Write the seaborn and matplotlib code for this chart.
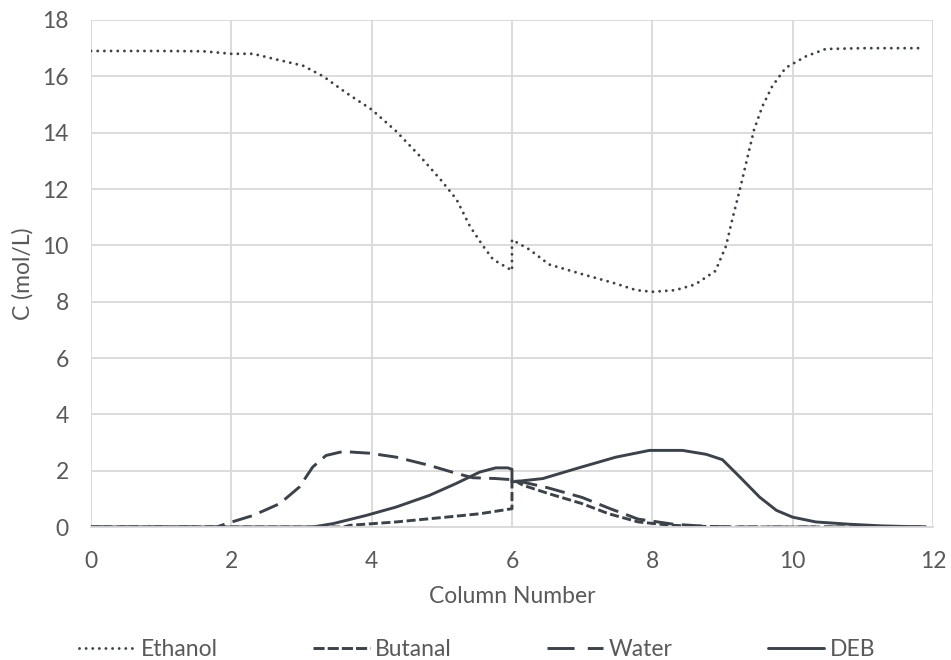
import matplotlib
matplotlib.use("Agg")
import matplotlib.pyplot as plt
import seaborn as sns

# ---- data ----
ethanol_x = [0, 1.0, 1.6, 2.0, 2.31, 2.64, 3.02, 3.31, 3.64, 4.0, 4.35, 4.69, 4.98, 5.21, 5.4,
             5.59, 5.73, 5.97, 6.0, 6.0, 6.25, 6.53, 7.01, 7.44, 7.77, 8.0, 8.33, 8.61, 8.9,
             9.05, 9.14, 9.26, 9.36, 9.45, 9.57, 9.71, 9.9, 10.19, 10.47, 11.0, 11.85]
ethanol_y = [16.9, 16.9, 16.89, 16.8, 16.8, 16.6, 16.38, 16.0, 15.41, 14.82, 14.05, 13.16, 12.34,
             11.63, 10.68, 9.97, 9.5, 9.15, 9.1, 10.2, 9.85, 9.32, 8.97, 8.67, 8.41, 8.35, 8.41,
             8.61, 9.09, 9.97, 10.92, 12.1, 13.16, 14.1, 14.94, 15.65, 16.3, 16.71, 16.97, 17.0, 17.0]

butanal_x = [0, 3.6, 3.69, 4.35, 5.06, 5.54, 6.0, 6.0, 6.16, 6.53, 7.0, 7.38, 7.8, 8.27, 9.0, 11.9]
butanal_y = [0, 0, 0.06, 0.18, 0.35, 0.47, 0.65, 1.7, 1.48, 1.18, 0.83, 0.47, 0.18, 0.06, 0.0, 0.0]

water_x = [0, 1.79, 1.93, 2.31, 2.69, 2.97, 3.16, 3.35, 3.59, 3.97, 4.35, 4.82, 5.2, 5.44, 5.77,
           6.0, 6.5, 7.0, 7.4, 7.8, 8.3, 8.8, 9.3, 11.9]
water_y = [0, 0, 0.12, 0.41, 0.83, 1.42, 2.13, 2.54, 2.68, 2.62, 2.48, 2.19, 1.91, 1.75, 1.72,
           1.68, 1.4, 1.05, 0.65, 0.28, 0.1, 0.02, 0, 0]

deb_x = [0, 3.16, 3.45, 3.92, 4.35, 4.82, 5.2, 5.54, 5.77, 5.94, 6.0, 6.0, 6.44, 6.91, 7.48, 7.96,
         8.43, 8.77, 9.0, 9.25, 9.53, 9.77, 10.0, 10.33, 10.8, 11.27, 11.9]
deb_y = [0, 0, 0.12, 0.41, 0.71, 1.12, 1.54, 1.95, 2.1, 2.1, 2.05, 1.6, 1.72, 2.07, 2.48, 2.72,
         2.72, 2.58, 2.39, 1.77, 1.06, 0.59, 0.35, 0.18, 0.1, 0.04, 0.0]

series_names = ["Ethanol", "Butanal", "Water", "DEB"]
x_ticks = [0, 2, 4, 6, 8, 10, 12]
y_ticks = [0, 2, 4, 6, 8, 10, 12, 14, 16, 18]

# ---- style ----
sns.set_style("whitegrid")
plt.rcParams["font.family"] = ["Lato", "DejaVu Sans"]
plt.rcParams["lines.scale_dashes"] = False

text_color = "#595959"
line_color = "#3b424a"
grid_color = "#d9d9d9"
fs = 16.5

fig = plt.figure(figsize=(9.51, 6.60), dpi=100)
ax = fig.add_axes([0.0957, 0.2015, 0.8853, 0.7682])

lw = 2.1
series = [(ethanol_x, ethanol_y), (butanal_x, butanal_y), (water_x, water_y), (deb_x, deb_y)]
for (xs, ys), name in zip(series, series_names):
    sns.lineplot(x=xs, y=ys, ax=ax, estimator=None, sort=False, color=line_color,
                 linewidth=lw, label=name)

plot_dashes = [(0.01, 4.8), (6.5, 2.6), (14.5, 6.0), None]
legend_dashes = [(0.01, 4.75), (8.0, 2.2), (19.5, 9.5), None]

lines = ax.get_lines()
for ln, d in zip(lines, plot_dashes):
    if d is None:
        ln.set_linestyle("-")
    else:
        ln.set_dashes(d)
lines[0].set_dash_capstyle("round")

ax.set_xlim(0, 12)
ax.set_ylim(0, 18)
ax.set_xticks(x_ticks)
ax.set_yticks(y_ticks)
ax.grid(True, color=grid_color, linewidth=1.3)
for s in ["top", "right", "left"]:
    ax.spines[s].set_visible(False)
ax.spines["bottom"].set_color(grid_color)
ax.spines["bottom"].set_linewidth(1.3)
ax.tick_params(axis="x", colors=text_color, labelsize=fs, length=0, pad=17)
ax.tick_params(axis="y", colors=text_color, labelsize=fs, length=0, pad=16)

ax.set_xlabel("Column Number", color=text_color, fontsize=fs, labelpad=10)
ax.set_ylabel("C (mol/L)", color=text_color, fontsize=fs, labelpad=6)

ax.get_legend().remove()
handles, labels = ax.get_legend_handles_labels()
leg = fig.legend(handles, labels, loc="center", bbox_to_anchor=(0.502, 1 - 650 / 660),
                 ncol=4, frameon=False, fontsize=fs, handlelength=2.45,
                 handletextpad=0.25, columnspacing=4.15)
for t in leg.get_texts():
    t.set_color(text_color)
for h, d in zip(leg.legend_handles, legend_dashes):
    h.set_linewidth(lw)
    if d is None:
        h.set_linestyle("-")
    else:
        h.set_dashes(d)
leg.legend_handles[0].set_dash_capstyle("round")

fig.savefig("out.png", dpi=100, facecolor="white")
